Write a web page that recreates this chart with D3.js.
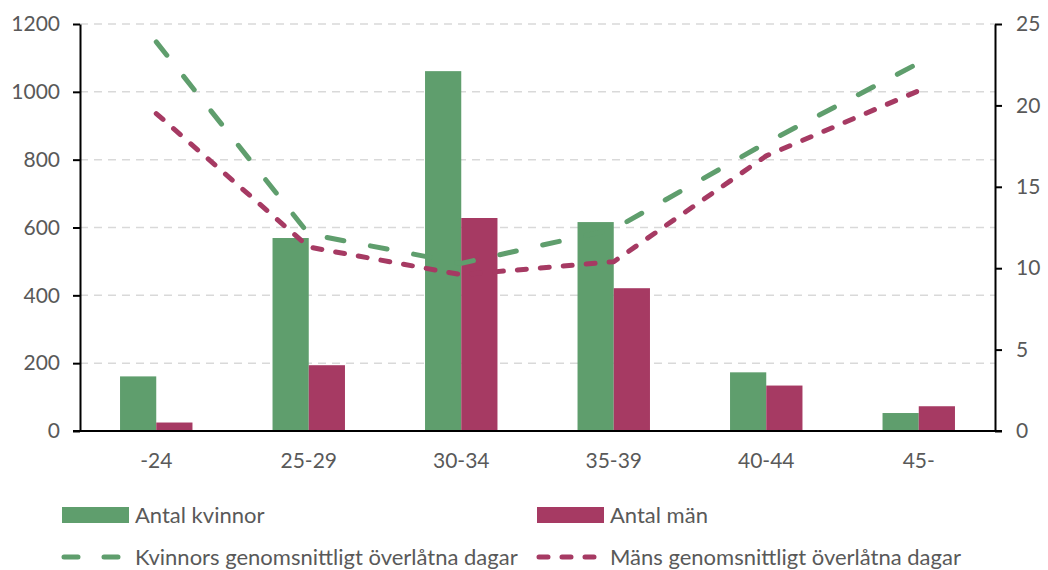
<!DOCTYPE html>
<html>
<head>
<meta charset="utf-8">
<script src="https://cdn.jsdelivr.net/npm/d3@7"></script>
<style>
  body { margin: 0; background: #fff; }
  svg { display: block; font-family: Lato, 'Open Sans', sans-serif; }
  .tick text { fill: #595959; font-size: 21px; }
</style>
</head>
<body>
<div class="chart"></div>
<script>
// data
const categories = ['-24', '25-29', '30-34', '35-39', '40-44', '45-'];
const antalKvinnor = [161, 569, 1061, 616, 173, 53];
const antalMan = [25, 194, 628, 421, 134, 73];
const kvinnorDagar = [23.9, 12.1, 10.3, 12.4, 17.7, 22.6];
const mansDagar = [19.5, 11.3, 9.6, 10.4, 16.9, 20.9];
const leftTicks = [0, 200, 400, 600, 800, 1000, 1200];
const rightTicks = [0, 5, 10, 15, 20, 25];

const green = '#5f9e6d';
const magenta = '#a63a63';

const width = 1048;
const height = 570;
const margin = {left: 80, right: 53, top: 24, bottom: 139};

const svg = d3.select('.chart').append('svg')
  .attr('width', width)
  .attr('height', height);

const x = d3.scaleBand()
  .domain(categories)
  .range([margin.left, width - margin.right])
  .paddingInner(0.525)
  .paddingOuter(0.2625);

const xCenter = d3.scaleBand()
  .domain(categories)
  .range([margin.left, width - margin.right]);

const yLeft = d3.scaleLinear().domain([0, 1200]).range([height - margin.bottom, margin.top]);
const yRight = d3.scaleLinear().domain([0, 25]).range([height - margin.bottom, margin.top]);

// gridlines
svg.append('g')
  .selectAll('line')
  .data(leftTicks.filter(d=>d>0))
  .enter()
  .append('line')
  .attr('x1', margin.left)
  .attr('x2', width - margin.right)
  .attr('y1', d=>yLeft(d))
  .attr('y2', d=>yLeft(d))
  .attr('stroke', '#d9d9d9')
  .attr('stroke-width', 1.5)
  .attr('stroke-dasharray', '8,6');

// bars
const bw = x.bandwidth() / 2;
svg.append('g')
  .selectAll('rect')
  .data(categories)
  .enter()
  .append('rect')
  .attr('fill', green)
  .attr('x', d=>x(d))
  .attr('width', bw)
  .attr('y', (d,i)=>yLeft(antalKvinnor[i]))
  .attr('height', (d,i)=>yLeft(0) - yLeft(antalKvinnor[i]));

svg.append('g')
  .selectAll('rect')
  .data(categories)
  .enter()
  .append('rect')
  .attr('fill', magenta)
  .attr('x', d=>x(d) + bw)
  .attr('width', bw)
  .attr('y', (d,i)=>yLeft(antalMan[i]))
  .attr('height', (d,i)=>yLeft(0) - yLeft(antalMan[i]));

// lines
const cx = d=>xCenter(d) + xCenter.bandwidth() / 2;
const lineG = d3.line().x((d,i)=>cx(categories[i])).y(d=>yRight(d));

svg.append('path')
  .datum(kvinnorDagar)
  .attr('d', lineG)
  .attr('fill', 'none')
  .attr('stroke', green)
  .attr('stroke-width', 5)
  .attr('stroke-linecap', 'round')
  .attr('stroke-linejoin', 'round')
  .attr('stroke-dasharray', '17,27');

svg.append('path')
  .datum(mansDagar)
  .attr('d', lineG)
  .attr('fill', 'none')
  .attr('stroke', magenta)
  .attr('stroke-width', 5)
  .attr('stroke-linecap', 'round')
  .attr('stroke-linejoin', 'round')
  .attr('stroke-dasharray', '9,14');

// axes
const axisLeft = svg.append('g')
  .attr('transform', `translate(${margin.left},0)`)
  .call(d3.axisLeft(yLeft).tickValues(leftTicks).tickFormat(d3.format('d')).tickSize(7).tickPadding(13).tickSizeOuter(0));

const axisRight = svg.append('g')
  .attr('transform', `translate(${width - margin.right},0)`)
  .call(d3.axisRight(yRight).tickValues(rightTicks).tickFormat(d3.format('d')).tickSize(7).tickPadding(14).tickSizeOuter(0));

const axisBottom = svg.append('g')
  .attr('transform', `translate(0,${yLeft(0)})`)
  .call(d3.axisBottom(xCenter).tickSize(0).tickPadding(22).tickSizeOuter(0));

[axisLeft, axisRight, axisBottom].forEach(g=>{
  g.selectAll('.domain').attr('stroke', '#000').attr('stroke-width', 2);
  g.selectAll('.tick line').attr('stroke', '#000').attr('stroke-width', 2);
  g.selectAll('.tick text').attr('font-family', 'Lato, sans-serif');
});
axisBottom.select('.domain').attr('d', `M${margin.left - 7},0H${width - margin.right + 7}`);

// legend
const legend = [
  {label: 'Antal kvinnor', type: 'rect', color: green, x: 62, y: 515},
  {label: 'Antal män', type: 'rect', color: magenta, x: 537, y: 515},
  {label: 'Kvinnors genomsnittligt överlåtna dagar', type: 'line', color: green, dash: '14,26', x: 62, y: 557},
  {label: 'Mäns genomsnittligt överlåtna dagar', type: 'line', color: magenta, dash: '9,14', x: 537, y: 557},
];

const lg = svg.append('g')
  .selectAll('g')
  .data(legend)
  .enter()
  .append('g')
  .attr('transform', d=>`translate(${d.x},${d.y})`);

lg.filter(d=>d.type==='rect')
  .append('rect')
  .attr('x', 0)
  .attr('y', -8)
  .attr('width', 67)
  .attr('height', 16)
  .attr('fill', d=>d.color);

lg.filter(d=>d.type==='line')
  .append('line')
  .attr('x1', 2)
  .attr('x2', 66)
  .attr('y1', 0)
  .attr('y2', 0)
  .attr('stroke', d=>d.color)
  .attr('stroke-width', 5)
  .attr('stroke-linecap', 'round')
  .attr('stroke-dasharray', d=>d.dash);

lg.append('text')
  .attr('x', 73)
  .attr('y', 0)
  .attr('dy', '0.35em')
  .attr('fill', '#595959')
  .attr('font-size', 22)
  .text(d=>d.label);
</script>
</body>
</html>
